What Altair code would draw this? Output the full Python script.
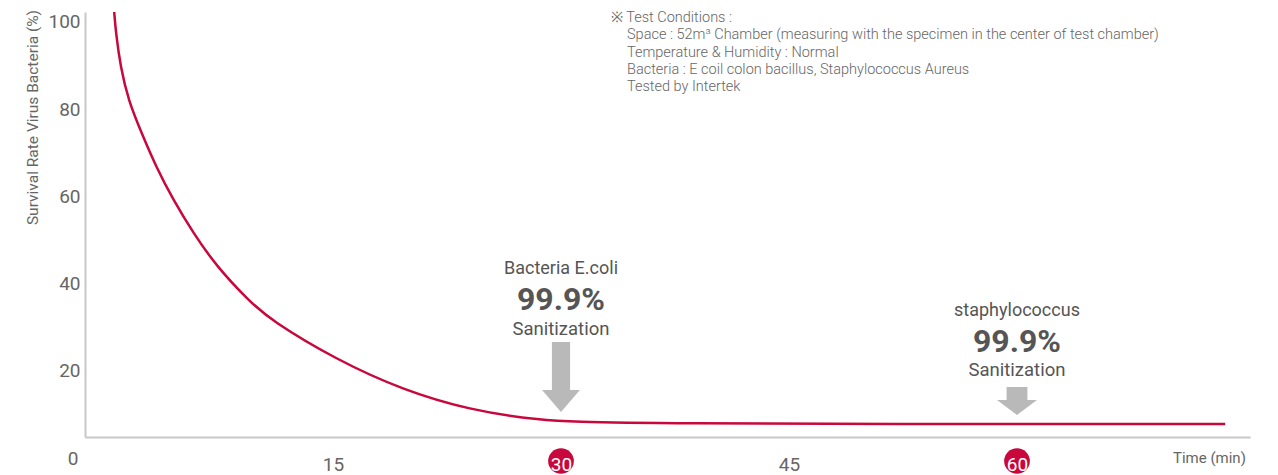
import altair as alt
import pandas as pd

# ---- data ----
time_min = [0.6, 0.72, 1.02, 1.53, 2.41, 3.36, 4.49, 5.81, 7.35, 9.43, 10.86,
            15.24, 19.6, 24.0, 28.4, 32.8, 73.7]
survival_pct = [102.5, 97.4, 89.7, 82.1, 74.5, 66.8, 59.2, 51.6, 43.9, 36.2, 31.7,
                22.5, 15.6, 11.0, 8.7, 7.8, 7.8]
x_ticks = [15, 30, 45, 60]
highlight_ticks = [30, 60]
y_ticks = [20, 40, 60, 80, 100]
callout_t = [30, 60]
callout_name = ["Bacteria E.coli", "staphylococcus"]
callout_rate = ["99.9%", "99.9%"]
callout_note = ["Sanitization", "Sanitization"]
conditions = [
    "※ Test Conditions :",
    "Space : 52m³ Chamber (measuring with the specimen in the center of test chamber)",
    "Temperature & Humidity : Normal",
    "Bacteria : E coil colon bacillus, Staphylococcus Aureus",
    "Tested by Intertek",
]
y_title = "Survival Rate Virus Bacteria (%)"
x_title = "Time (min)"

# ---- styles ----
RED = "#C8073D"
GRAY_TEXT = "#666666"
DARK = "#555555"
AXIS = "#C8C8C8"
ARROW = "#B9B9B9"
FONT = "Roboto"

W, H = 1165, 425
xs = alt.Scale(domain=[-1.316, 75.33], nice=False, zero=False)
ys = alt.Scale(domain=[4.82, 102.29], nice=False, zero=False)

curve = pd.DataFrame({"t": time_min, "v": survival_pct})

line = alt.Chart(curve).mark_line(
    color=RED, strokeWidth=2.5, interpolate="basis", clip=True
).encode(
    x=alt.X("t:Q", scale=xs, axis=alt.Axis(
        values=x_ticks, title=None, ticks=False, grid=False,
        domainColor=AXIS, domainWidth=2, labelFont=FONT, labelFontSize=19,
        labelColor={"condition": {"test": "datum.value == 30 || datum.value == 60",
                                  "value": "#FFFFFF"}, "value": GRAY_TEXT},
        labelPadding=27, labelBaseline="middle", labelFlush=False,
        labelOverlap=False, zindex=1)),
    y=alt.Y("v:Q", scale=ys, axis=alt.Axis(
        values=y_ticks, title=None, ticks=False, grid=False,
        domainColor=AXIS, domainWidth=2, labelFont=FONT, labelFontSize=19,
        labelColor=GRAY_TEXT, labelPadding=5)),
)

circles = alt.Chart(pd.DataFrame({"t": highlight_ticks})).mark_point(
    shape="circle", filled=True, opacity=1, color=RED, size=660
).encode(x=alt.X("t:Q", scale=xs), y=alt.value(449))


def text_px(s, px, py, size, color, weight="normal", align="center", angle=0):
    return alt.Chart(pd.DataFrame({"s": [s]})).mark_text(
        align=align, baseline="middle", fontSize=size, color=color,
        fontWeight=weight, font=FONT, angle=angle
    ).encode(x=alt.value(px), y=alt.value(py), text="s:N")


def text_at(s, t, py, size, color, weight="normal"):
    return alt.Chart(pd.DataFrame({"s": [s], "t": [t]})).mark_text(
        align="center", baseline="middle", fontSize=size, color=color,
        fontWeight=weight, font=FONT
    ).encode(x=alt.X("t:Q", scale=xs), y=alt.value(py), text="s:N")


def arrow_at(t, py, path, size):
    return alt.Chart(pd.DataFrame({"t": [t]})).mark_point(
        shape=path, filled=True, opacity=1, color=ARROW, size=size, strokeWidth=0
    ).encode(x=alt.X("t:Q", scale=xs), y=alt.value(py))


layers = [line, circles]

# callouts
name_y = [257, 299]
rate_y = [288, 330]
note_y = [317, 358]
arrow_y = [365, 389]
arrow_paths = [
    "M-0.26,-1L0.26,-1L0.26,0.37L0.54,0.37L0,1L-0.54,0.37L-0.26,0.37Z",
    "M-0.52,-0.7L0.52,-0.7L0.52,-0.05L1,-0.05L0,0.7L-1,-0.05L-0.52,-0.05Z",
]
arrow_sizes = [4900, 1600]
for i in range(2):
    layers.append(text_at(callout_name[i], callout_t[i], name_y[i], 18, DARK))
    layers.append(text_at(callout_rate[i], callout_t[i], rate_y[i], 32, DARK, "bold"))
    layers.append(text_at(callout_note[i], callout_t[i], note_y[i], 18.5, DARK))
    layers.append(arrow_at(callout_t[i], arrow_y[i], arrow_paths[i], arrow_sizes[i]))

# test conditions
for i, s in enumerate(conditions):
    layers.append(text_px(s, 526 if i == 0 else 542, 6 + i * 17.3, 14.5, GRAY_TEXT,
                          weight=300, align="left"))

# axis extras
layers.append(text_px("0", -12, 447, 19, GRAY_TEXT))
layers.append(text_px(x_title, 1088, 446, 15, GRAY_TEXT, align="left"))
layers.append(text_px(y_title, -52, -2, 15.5, GRAY_TEXT, align="right", angle=270))

chart = alt.layer(*layers).properties(
    width=W, height=H,
    autosize=alt.AutoSizeParams(type="none"),
    padding={"left": 77, "top": 4, "right": 20, "bottom": 38},
).configure_view(stroke=None)

chart.save("out.html", embed_options={"renderer": "svg", "actions": False})
